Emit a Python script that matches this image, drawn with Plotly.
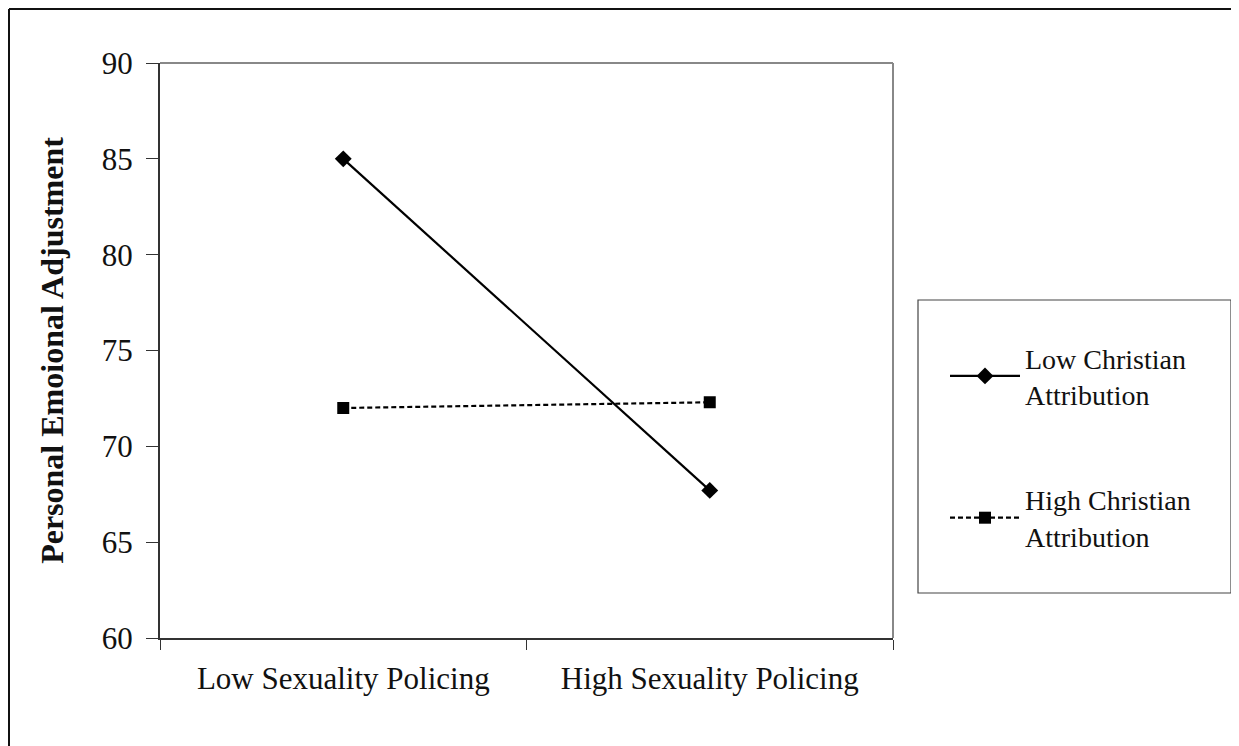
import plotly.graph_objects as go

categories = ["Low Sexuality Policing", "High Sexuality Policing"]
low_christian = [85.0, 67.7]
high_christian = [72.0, 72.3]
series_names = ["Low Christian<br>Attribution", "High Christian<br>Attribution"]
y_ticks = [60, 65, 70, 75, 80, 85, 90]

FONT = "Liberation Serif, Times New Roman, serif"

fig = go.Figure()
fig.add_trace(go.Scatter(
    x=categories, y=low_christian, name=series_names[0], mode="lines+markers",
    line=dict(color="black", width=2.2),
    marker=dict(symbol="diamond", size=13, color="black"),
    legendgroup="a"))
fig.add_trace(go.Scatter(
    x=categories, y=high_christian, name=series_names[1], mode="lines+markers",
    line=dict(color="black", width=2.2, dash="5px,3px"),
    marker=dict(symbol="square", size=12, color="black"),
    legendgroup="b"))

OFF = 8  # page offset of the figure div
W, H = 1231, 738
L, R, T, B = 152, 346, 55, 108
pw, ph = W - L - R, H - T - B

def px(x):  # screen x -> paper
    return (x - OFF - L) / pw

def py(y):  # screen y -> paper
    return (H - B - (y - OFF)) / ph

fig.update_layout(
    width=W, height=H,
    margin=dict(l=L, r=R, t=T, b=B),
    paper_bgcolor="white", plot_bgcolor="white",
    font=dict(family=FONT, size=30, color="#111"),
    showlegend=True,
    legend=dict(x=px(945), y=py(333), xanchor="left", yanchor="top",
                bgcolor="rgba(0,0,0,0)", borderwidth=0,
                tracegroupgap=66, font=dict(size=28, family=FONT, color="#111"),
                itemwidth=70),
    xaxis=dict(type="category", range=[-0.5, 1.5], showgrid=False,
               showline=True, linecolor="#333", linewidth=2,
               ticks="outside", tickson="boundaries", ticklen=10,
               tickcolor="#333", tickwidth=1, ticklabelstandoff=12,
               tickfont=dict(size=31, family=FONT), zeroline=False),
    yaxis=dict(range=[60, 90], tickvals=y_ticks, showgrid=False,
               showline=True, linecolor="#333", linewidth=2,
               ticks="outside", ticklen=12, tickcolor="#333", tickwidth=1,
               tickfont=dict(size=31, family=FONT), zeroline=False,
               ticklabelstandoff=7,
               title=dict(text="<b>Personal Emoional Adjustment</b>",
                          font=dict(size=32, family=FONT), standoff=29)),
    shapes=[
        dict(type="line", xref="paper", yref="paper", x0=0, x1=1, y0=1, y1=1,
             line=dict(color="#888", width=2)),
        dict(type="line", xref="paper", yref="paper", x0=1, x1=1, y0=0, y1=1,
             line=dict(color="#888", width=2)),
        dict(type="rect", xref="paper", yref="paper",
             x0=px(918), x1=px(1231), y0=py(593), y1=py(300),
             line=dict(color="#444", width=1.2)),
        dict(type="line", xref="paper", yref="paper",
             x0=px(9), x1=px(1239), y0=py(9), y1=py(9),
             line=dict(color="#111", width=2)),
        dict(type="line", xref="paper", yref="paper",
             x0=px(9), x1=px(9), y0=py(9), y1=py(746),
             line=dict(color="#111", width=2)),
    ],
)

fig.write_html("out.html")
